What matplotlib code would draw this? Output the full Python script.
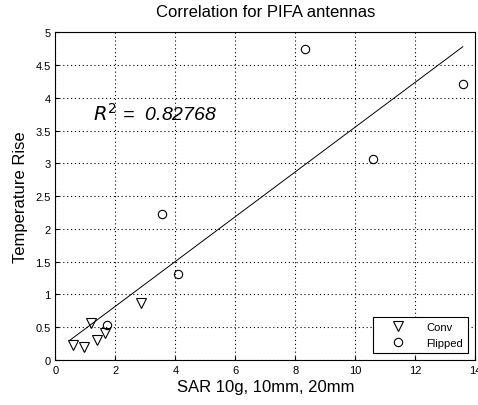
import matplotlib
matplotlib.use("Agg")
import matplotlib.pyplot as plt

plt.rcParams['font.family'] = ['Liberation Sans', 'DejaVu Sans']

conv_x = [0.59, 0.94, 1.20, 1.40, 1.66, 2.85]
conv_y = [0.23, 0.20, 0.56, 0.30, 0.41, 0.87]
flip_x = [1.72, 3.56, 4.09, 8.34, 10.6, 13.58]
flip_y = [0.54, 2.23, 1.31, 4.74, 3.07, 4.21]
fit_x = [0.48, 13.59]
fit_y = [0.30, 4.78]
r2 = 0.82768

fig = plt.figure(figsize=(4.78, 4.06), dpi=100)
ax = fig.add_axes([0.116, 0.111, 0.878, 0.807])

ax.plot(conv_x, conv_y, 'v', mfc='none', mec='k', ms=7, mew=0.8, label='Conv')
ax.plot(flip_x, flip_y, 'o', mfc='none', mec='k', ms=6, mew=0.8, label='Flipped')
ax.plot(fit_x, fit_y, '-', color='k', lw=0.7)

ax.set_xlim(0, 14)
ax.set_ylim(0, 5)
ax.set_xticks(range(0, 15, 2))
ax.set_yticks([0, 0.5, 1, 1.5, 2, 2.5, 3, 3.5, 4, 4.5, 5])
ax.set_yticklabels(['0', '0.5', '1', '1.5', '2', '2.5', '3', '3.5', '4', '4.5', '5'])
ax.grid(True, linestyle=(0, (1, 2.5)), color='k', lw=0.8)
ax.tick_params(direction='in', labelsize=8, length=3)

ax.set_title('Correlation for PIFA antennas', fontsize=12, pad=12)
ax.set_xlabel('SAR 10g, 10mm, 20mm', fontsize=12, labelpad=3)
ax.set_ylabel('Temperature Rise', fontsize=12, labelpad=5)
ax.text(1.25, 3.66, '$R^2$ =  %.5f' % r2, fontsize=14, style='italic')

leg = ax.legend(loc='lower right', fontsize=8, fancybox=False, edgecolor='k',
                framealpha=1, handlelength=3.5, borderpad=0.5, labelspacing=0.5,
                borderaxespad=0.6)
leg.get_frame().set_linewidth(0.8)

fig.savefig('out.png', dpi=100)
